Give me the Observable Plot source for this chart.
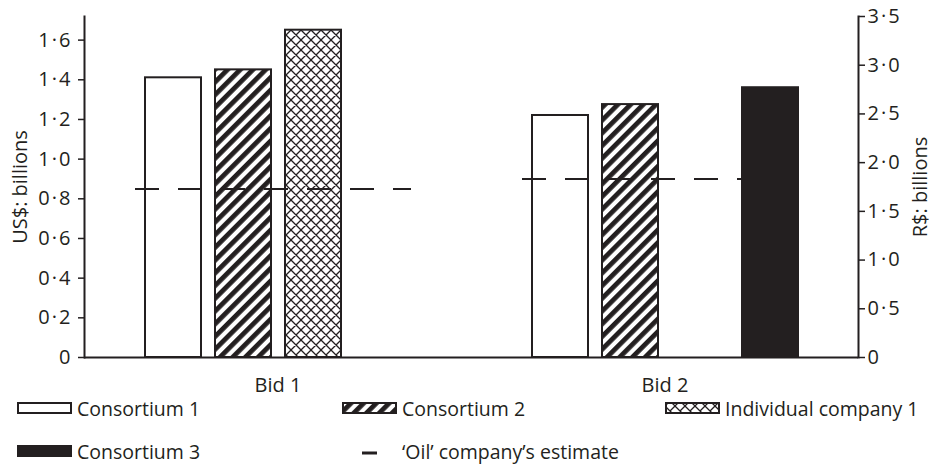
<!DOCTYPE html>
<html><head><meta charset="utf-8">
<script src="https://cdn.jsdelivr.net/npm/d3@7"></script>
<script src="https://cdn.jsdelivr.net/npm/@observablehq/plot@0.6"></script>
<style>
body{margin:0;background:#fff;font-family:"Open Sans",sans-serif;color:#231f20}
#legend{position:relative;width:933px;height:60px;font-size:19.5px}
.item{position:absolute;display:flex;align-items:center;height:24px;white-space:nowrap}
.item svg{margin-right:5px;flex:none}
</style></head><body><div id="chart"></div><div id="legend"></div>
<script>
const bids = ["Bid 1", "Bid 2"];
const series = ["Consortium 1", "Consortium 2", "Individual company 1", "Consortium 3"];
const bid1Values = [1.41, 1.45, 1.65, null];
const bid2Values = [1.22, 1.275, null, 1.36];
const estimateValues = [0.85, 0.90];
const estimateLabel = "\u2018Oil\u2019 company\u2019s estimate";
const leftTicks = [0, 0.2, 0.4, 0.6, 0.8, 1.0, 1.2, 1.4, 1.6];
const rightTicks = [0, 0.5, 1.0, 1.5, 2.0, 2.5, 3.0, 3.5];
const exchangeRate = 2.036; // R$ per US$

const ink = "#231f20";
const fills = {
  "Consortium 1": "white",
  "Consortium 2": "url(#stripes)",
  "Individual company 1": "url(#diamonds)",
  "Consortium 3": ink
};
const valuesByBid = [bid1Values, bid2Values];
const rows = bids.flatMap((b, i) => series.map((s, j) => ({bid: b, series: s, value: valuesByBid[i][j]})))
  .filter(d => d.value != null);
const estimates = bids.map((b, i) => ({bid: b, value: estimateValues[i]}));
const fmt = d => Math.abs(d) < 1e-9 ? "0" : d.toFixed(1).replace(".", "\u200a\u00b7\u200a");

const chart = Plot.plot({
  width: 933,
  height: 406,
  marginLeft: 83,
  marginRight: 75,
  marginTop: 16,
  marginBottom: 49,
  style: {fontFamily: "Open Sans", fontSize: "20px", color: ink, background: "white"},
  fx: {domain: bids, padding: 0, axis: "bottom", label: null, tickSize: 0, tickPadding: 20, fontSize: 20},
  x: {domain: series, paddingInner: 0.2, paddingOuter: 0.864, axis: null},
  y: {domain: [0, 3.5 / exchangeRate]},
  marks: [
    Plot.ruleY([0], {stroke: ink, strokeWidth: 2}),
    Plot.frame({anchor: "left", facetAnchor: "left", stroke: ink, strokeWidth: 2}),
    Plot.frame({anchor: "right", facetAnchor: "right", stroke: ink, strokeWidth: 2}),
    ...series.map(s => Plot.barY(rows.filter(d => d.series === s), {
      fx: "bid", x: "series", y: "value", fill: fills[s], stroke: ink, strokeWidth: 2
    })),
    Plot.ruleY(estimates, {
      fx: "bid", y: "value", x1: () => series[0], x2: () => series[3],
      insetLeft: -10, stroke: ink, strokeWidth: 2, strokeDasharray: "24,19"
    }),
    Plot.axisY(leftTicks, {
      anchor: "left", tickSize: 6, tickPadding: 8, tickFormat: fmt, stroke: ink, strokeWidth: 1.5, fontSize: 20,
      label: "US$: billions", labelAnchor: "center", labelOffset: 72, labelArrow: "none"
    }),
    Plot.axisY(rightTicks.map(v => v / exchangeRate), {
      anchor: "right", tickSize: 6, tickPadding: 3, tickFormat: d => fmt(d * exchangeRate), stroke: ink, strokeWidth: 1.5, fontSize: 20,
      label: "R$: billions", labelAnchor: "center", labelOffset: 68, labelArrow: "none"
    })
  ]
});

function addPatterns(svgSel, suffix) {
  const defs = svgSel.insert("defs", ":first-child");
  const st = defs.append("pattern").attr("id", "stripes" + suffix)
    .attr("patternUnits", "userSpaceOnUse").attr("width", 9).attr("height", 9)
    .attr("patternTransform", "rotate(45)");
  st.append("rect").attr("width", 9).attr("height", 9).attr("fill", "white");
  st.append("rect").attr("width", 4.8).attr("height", 9).attr("fill", ink);
  const dm = defs.append("pattern").attr("id", "diamonds" + suffix)
    .attr("patternUnits", "userSpaceOnUse").attr("width", 10).attr("height", 10);
  dm.append("rect").attr("width", 10).attr("height", 10).attr("fill", "white");
  dm.append("path").attr("d", "M-1,-1L11,11M11,-1L-1,11M-1,9L1,11M9,-1L11,1M-1,1L1,-1M9,11L11,9")
    .attr("stroke", ink).attr("stroke-width", 1.3).attr("fill", "none");
}
addPatterns(d3.select(chart), "");
document.getElementById("chart").appendChild(chart);

// Legend
const legend = d3.select("#legend");
const legendItems = [
  {label: series[0], kind: "rect", fill: "white", left: 17, top: -10},
  {label: series[1], kind: "rect", fill: "url(#stripesL)", left: 342, top: -10},
  {label: series[2], kind: "rect", fill: "url(#diamondsL)", left: 665, top: -10},
  {label: series[3], kind: "rect", fill: ink, left: 17, top: 33},
  {label: estimateLabel, kind: "dash", left: 362, top: 33}
];
legendItems.forEach((it, i) => {
  const div = legend.append("div").attr("class", "item").style("left", it.left + "px").style("top", it.top + "px");
  if (it.kind === "rect") {
    const sw = div.append("svg").attr("width", 55).attr("height", 24);
    if (i === 1) addPatterns(sw, "L");
    sw.append("rect").attr("x", 1).attr("y", 7).attr("width", 53).attr("height", 10)
      .attr("fill", it.fill).attr("stroke", ink).attr("stroke-width", 2);
  } else {
    const sw = div.append("svg").attr("width", 35).attr("height", 24);
    sw.append("line").attr("x1", 0).attr("x2", 15).attr("y1", 14).attr("y2", 14)
      .attr("stroke", ink).attr("stroke-width", 3);
  }
  div.append("span").text(it.label);
});
</script></body></html>
